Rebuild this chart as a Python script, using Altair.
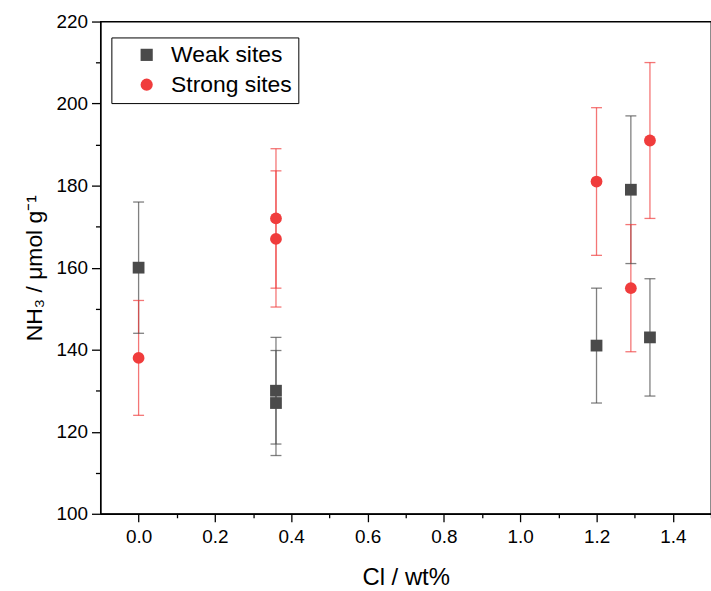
import altair as alt
import pandas as pd

# ---- data ----
series_names = ["Weak sites", "\u00a0Strong sites"]
cl_weak = [0.0, 0.36, 0.36, 1.2, 1.29, 1.34]
nh3_weak = [160, 130, 127, 141, 179, 143]
err_weak = [16, 13, 12.8, 14, 18, 14.3]
cl_strong = [0.0, 0.36, 0.36, 1.2, 1.29, 1.34]
nh3_strong = [138, 172, 167, 181, 155, 191]
err_strong = [14, 17, 16.6, 18, 15.5, 19]

x_ticks = [round(i * 0.1, 1) for i in range(0, 16)]
y_ticks = list(range(100, 221, 10))

rows = []
for x, y, e in zip(cl_weak, nh3_weak, err_weak):
    rows.append({"cl": x, "nh3": y, "lo": y - e, "hi": y + e, "series": series_names[0]})
for x, y, e in zip(cl_strong, nh3_strong, err_strong):
    rows.append({"cl": x, "nh3": y, "lo": y - e, "hi": y + e, "series": series_names[1]})
df = pd.DataFrame(rows)

FONT = "Liberation Sans"

color_scale = alt.Scale(domain=series_names, range=["#4a4a4a", "#f03c3c"])
shape_scale = alt.Scale(domain=series_names, range=["square", "circle"])

legend = alt.Legend(
    title=None,
    orient="none",
    legendX=11,
    legendY=16,
    padding=6,
    symbolOffset=18,
    labelOffset=13,
    rowPadding=6,
    labelFontSize=23,
    symbolSize=150,
    symbolStrokeWidth=0,
    symbolOpacity=1,
    strokeColor="black",
    fillColor="white",
    labelFont=FONT,
    labelColor="black",
)

x_enc = alt.X(
    "cl:Q",
    scale=alt.Scale(domain=[-0.1, 1.5], nice=False, zero=False),
    axis=alt.Axis(
        title="Cl / wt%",
        values=x_ticks,
        labelExpr="round(datum.value*10) % 2 === 0 ? format(datum.value, '.1f') : ''",
        tickSize={"condition": {"test": "round(datum.value*10) % 2 === 0", "value": 8}, "value": 4},
        grid=False,
        labelFontSize=19,
        labelPadding=6,
        titleFontSize=24,
        titlePadding=19,
    ),
)
y_scale = alt.Scale(domain=[100, 220], nice=False, zero=False)
y_axis = alt.Axis(
    title="NH\u2083 / \u03bcmol g\u207b\u00b9",
    values=y_ticks,
    labelExpr="datum.value % 20 === 0 ? datum.label : ''",
    tickSize={"condition": {"test": "datum.value % 20 === 0", "value": 9}, "value": 5},
    grid=False,
    labelFontSize=19,
    labelPadding=4,
    titleFontSize=23,
    titlePadding=10,
)

base = alt.Chart(df)
color_enc = alt.Color("series:N", scale=color_scale, legend=legend)

bars = base.mark_rule(strokeWidth=1.3, opacity=0.7).encode(
    x=x_enc,
    y=alt.Y("lo:Q", scale=y_scale, axis=y_axis),
    y2="hi:Q",
    color=color_enc,
)
caps_lo = base.mark_tick(orient="horizontal", size=11, thickness=1.3, opacity=0.7).encode(
    x="cl:Q",
    y="lo:Q",
    color=color_enc,
)
caps_hi = base.mark_tick(orient="horizontal", size=11, thickness=1.3, opacity=0.7).encode(
    x="cl:Q",
    y="hi:Q",
    color=color_enc,
)
points = base.mark_point(filled=True, opacity=1, size=140).encode(
    x="cl:Q",
    y="nh3:Q",
    color=color_enc,
    shape=alt.Shape("series:N", scale=shape_scale, legend=legend),
)

chart = (
    alt.layer(bars, caps_lo, caps_hi, points)
    .properties(
        width=614,
        height=495,
        autosize=alt.AutoSizeParams(type="none"),
        padding={"left": 101, "top": 20, "right": 0, "bottom": 76},
        background="white",
    )
    .configure_view(stroke="black", strokeWidth=1.3)
    .configure_axis(
        domainColor="black",
        domainWidth=1.3,
        tickColor="black",
        tickWidth=1.3,
        labelColor="black",
        titleColor="black",
        labelFont=FONT,
        titleFont=FONT,
        titleFontWeight="normal",
    )
)

chart.save("out.html", embed_options={"renderer": "svg", "actions": False})
